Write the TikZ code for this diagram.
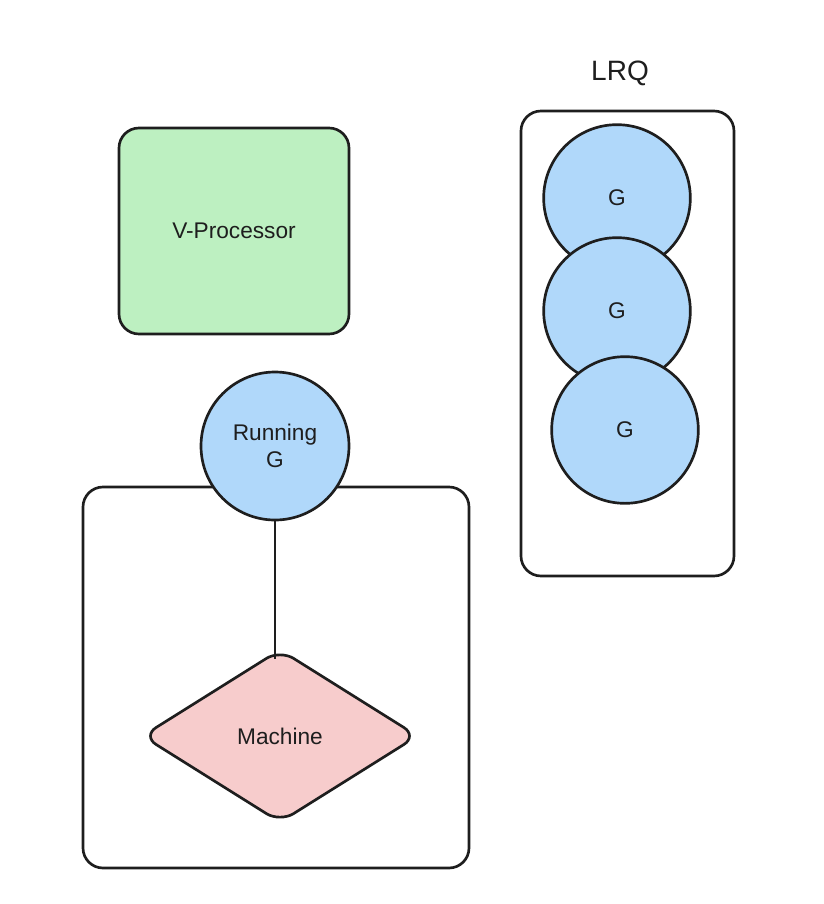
\documentclass[tikz,border=0pt]{standalone}
\usepackage{fontspec}
\setmainfont{Liberation Sans}
\usetikzlibrary{positioning, calc, shapes.geometric}
\definecolor{Ink}{HTML}{1E1E1E}
\definecolor{GBlue}{HTML}{B0D8FA}
\definecolor{PGreen}{HTML}{BDF0C1}
\definecolor{MPink}{HTML}{F7CCCC}
\tikzset{
    label/.style={font=\fontsize{17}{20}\selectfont, text=Ink, align=center},
    boxnode/.style={rectangle, rounded corners=15pt, draw=Ink, line width=2pt, inner sep=0pt},
    gnode/.style={circle, draw=Ink, line width=2pt, fill=GBlue, minimum size=110pt, inner sep=0pt, label},
    machnode/.style={diamond, rounded corners=12pt, draw=Ink, line width=2pt, fill=MPink, minimum width=207pt, minimum height=130pt, inner sep=0pt, label},
    link/.style={draw=Ink, line width=2pt},
}
\begin{document}
\begin{tikzpicture}[x=0.75pt, y=-0.75pt]
    \useasboundingbox (0,0) rectangle (824,904);

    % Processore
    \node[boxnode, fill=PGreen, minimum width=172.5pt, minimum height=154.5pt, label] (vp) at (234,231) {V-Processor};

    % Coda locale
    \node[font=\fontsize{21}{25}\selectfont, text=Ink] (lrqtitle) at (620,73) {LRQ};
    \node[boxnode, minimum width=159.75pt, minimum height=348.75pt] (lrq) at (627.5,343.5) {};
    \node[gnode] (g1) at (617,198) {G};
    \node[gnode] (g2) at (617,311) {G};
    \node[gnode] (g3) at (625,430) {G};

    % Macchina con la G in esecuzione
    \node[boxnode, minimum width=289.5pt, minimum height=285.75pt] (mbox) at (276,677.5) {};
    \node[machnode] (mach) at (280,736) {Machine};
    \node[gnode, minimum size=111pt] (rg) at (275,446) {Running\\G};
    \draw[link] (rg.south) -- ([yshift=-8pt]rg.south |- mach.north);
\end{tikzpicture}
\end{document}
